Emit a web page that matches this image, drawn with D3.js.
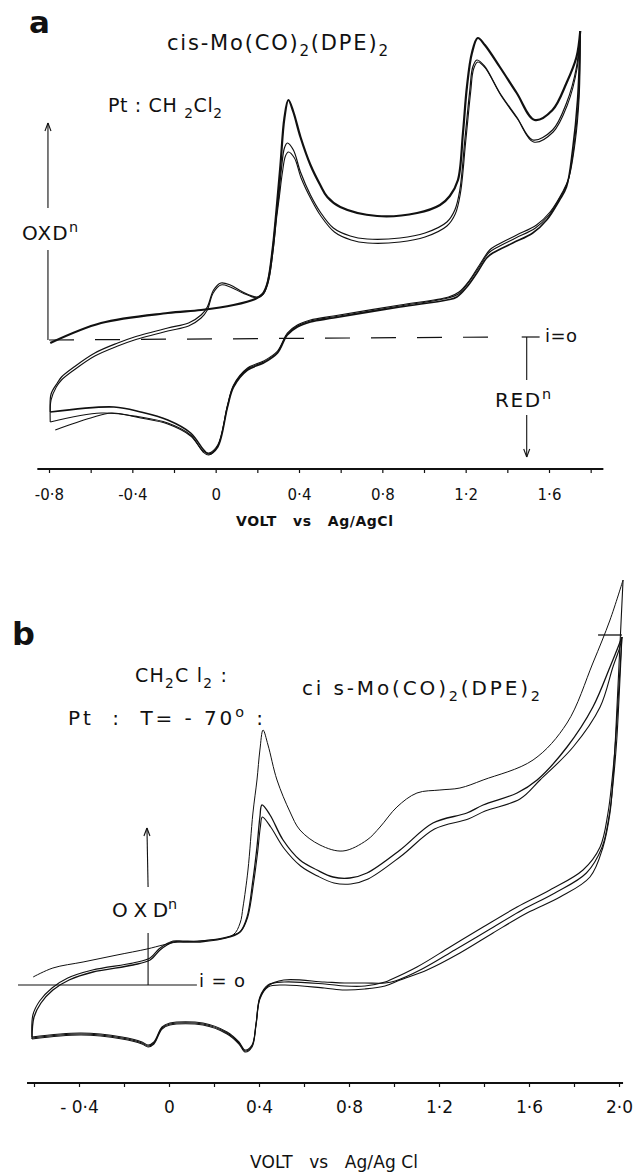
<!DOCTYPE html>
<html>
<head>
<meta charset="utf-8">
<script src="https://cdn.jsdelivr.net/npm/d3@7"></script>
<style>
  body { margin: 0; background: #fff; }
  text { font-family: "DejaVu Sans", sans-serif; fill: #111; white-space: pre; }
</style>
</head>
<body>
<svg id="fig" width="636" height="1174"></svg>
<script>
// ---------- panel a : cis-Mo(CO)2(DPE)2, Pt, CH2Cl2 ----------
// [volt vs Ag/AgCl, current (arb. units, + = oxidation)]
var aOx1 = [[-0.794,-0.5],[-0.55,1.5],[-0.23,2.5],[-0.07,2.8],[0.086,3.3],[0.19,3.9],[0.225,4.4],[0.249,5.5],
  [0.273,8.8],[0.292,12.8],[0.311,17.3],[0.33,22],[0.349,23.8],[0.373,22.6],[0.407,20.1],[0.455,17.3],
  [0.502,15.3],[0.536,14.1],[0.598,13.1],[0.775,12.2],[0.967,12.5],[1.077,13.3],[1.124,14.2],[1.163,15.8],
  [1.187,20.5],[1.206,25.1],[1.23,28.5],[1.258,30],[1.292,29.3],[1.364,27.1],[1.445,24.5],[1.531,21.8],
  [1.617,22.8],[1.684,25.5],[1.732,28.1],[1.75,30.7]];
var aRed1 = [[1.75,30.7],[1.737,23.8],[1.713,18.8],[1.684,15.1],[1.651,13.8],[1.589,11.8],[1.522,10.5],
  [1.426,9.5],[1.33,8.5],[1.301,8.0],[1.254,6.5],[1.206,5.1],[1.158,4.1],[1.11,3.8],[0.885,3.1],[0.565,2.0],
  [0.455,1.6],[0.392,1.1],[0.344,0.3],[0.297,-1.5],[0.23,-2.5],[0.153,-3.2],[0.086,-4.9],[0.057,-6.9],
  [0.01,-10.9],[-0.033,-11.6],[-0.057,-11.2],[-0.12,-9.5],[-0.23,-8.2],[-0.36,-7.4],[-0.488,-6.9],[-0.794,-7.4]];
var aOx2 = [[-0.794,-7.4],[-0.79,-5.6],[-0.76,-4.5],[-0.74,-3.9],[-0.68,-2.9],[-0.58,-1.5],[-0.47,-0.5],
  [-0.39,0.1],[-0.23,1.0],[-0.13,1.5],[-0.07,2.3],[-0.04,3.1],[-0.01,4.8],[0.025,5.5],[0.07,5.3],[0.13,4.6],
  [0.2,4.1],[0.23,4.5],[0.254,6.1],[0.273,8.8],[0.29,12.1],[0.302,14.0],[0.316,17.0],[0.33,19.0],[0.344,19.5],
  [0.373,18.8],[0.407,16.6],[0.455,14.3],[0.502,12.6],[0.565,11.0],[0.646,10.2],[0.727,9.9],[0.885,10.0],
  [1.005,10.5],[1.11,11.6],[1.148,12.8],[1.172,14.8],[1.196,19.8],[1.22,24.8],[1.234,27.1],[1.254,27.8],
  [1.29,27.2],[1.364,24.5],[1.445,22.1],[1.522,19.8],[1.617,20.8],[1.684,23.5],[1.732,27.1],[1.75,30.7]];
var aRed2 = [[1.75,30.7],[1.742,24],[1.72,19.2],[1.69,15.6],[1.66,14.3],[1.6,12.3],[1.535,11.0],[1.44,10.0],
  [1.345,9.0],[1.31,8.5],[1.262,7.0],[1.212,5.5],[1.165,4.4],[1.115,4.0],[0.885,3.2],[0.565,2.1],[0.455,1.7],
  [0.392,1.2],[0.344,0.4],[0.297,-1.4],[0.23,-2.4],[0.153,-3.1],[0.086,-4.8],[0.057,-6.8],[0.01,-10.8],
  [-0.033,-11.7],[-0.06,-11.4],[-0.12,-9.7],[-0.23,-8.5],[-0.36,-7.9],[-0.55,-7.5],[-0.794,-8.4]];
var aOx3 = [[-0.794,-8.4],[-0.79,-6.2],[-0.765,-4.9],[-0.74,-4.2],[-0.68,-3.2],[-0.58,-1.8],[-0.47,-0.8],
  [-0.39,-0.2],[-0.23,0.7],[-0.13,1.2],[-0.07,2.0],[-0.04,2.8],[-0.012,4.5],[0.025,5.3],[0.07,5.1],[0.13,4.5],
  [0.2,4.0],[0.23,4.4],[0.256,6.0],[0.276,8.8],[0.293,12.1],[0.305,14.0],[0.32,16.5],[0.335,18.2],[0.349,18.6],
  [0.378,18.0],[0.41,16.0],[0.46,13.8],[0.505,12.2],[0.57,10.6],[0.65,9.8],[0.73,9.5],[0.885,9.6],[1.005,10.1],
  [1.11,11.2],[1.15,12.4],[1.175,14.5],[1.2,19.6],[1.224,24.6],[1.238,26.9],[1.258,27.6],[1.294,27.0],
  [1.368,24.3],[1.449,21.9],[1.526,19.6],[1.62,20.6],[1.688,23.3],[1.735,27],[1.75,30.7]];
var aRed3 = [[1.75,30.7],[1.745,24.2],[1.725,19.5],[1.695,16],[1.665,14.6],[1.605,12.6],[1.54,11.3],[1.445,10.3],
  [1.35,9.3],[1.315,8.8],[1.266,7.3],[1.216,5.7],[1.168,4.6],[1.118,4.1],[0.885,3.3],[0.565,2.2],[0.455,1.8],
  [0.392,1.3],[0.344,0.5],[0.297,-1.3],[0.23,-2.3],[0.153,-3.0],[0.086,-4.7],[0.057,-6.7],[0.01,-10.7],
  [-0.033,-11.5],[-0.06,-11.3],[-0.12,-9.8],[-0.23,-8.6],[-0.36,-8.0],[-0.5,-7.5],[-0.6,-8.0],[-0.77,-9.2]];

var aTicks = [-0.8,-0.6,-0.4,-0.2,0,0.2,0.4,0.6,0.8,1.0,1.2,1.4,1.6,1.8];
var aLabelValues = [-0.8,-0.4,0,0.4,0.8,1.2,1.6];
var aLabels = ["-0\u00b78","-0\u00b74","0","0\u00b74","0\u00b78","1\u00b72","1\u00b76"];

// ---------- panel b : same complex, -70 deg ----------
var bOx1 = [[-0.604,0.8],[-0.516,1.7],[-0.382,2.3],[-0.231,3.0],[-0.098,3.6],[-0.027,4.0],[0.036,4.3],[0.138,4.4],
  [0.284,5.0],[0.316,6.2],[0.329,7.8],[0.351,11.5],[0.373,17.2],[0.391,20.5],[0.404,23.5],[0.418,25.5],[0.44,24.0],
  [0.48,20.5],[0.538,17.3],[0.582,15.5],[0.671,14.0],[0.773,13.4],[0.88,14.5],[0.938,15.8],[1.013,17.8],
  [1.102,19.2],[1.204,19.5],[1.293,19.7],[1.396,20.5],[1.618,22.5],[1.769,26.2],[1.884,32.2],[1.96,36.5],[2.018,40.5]];
var bRed1 = [[2.018,40.5],[2.0,32.0],[1.985,25.0],[1.973,20.5],[1.96,17.2],[1.929,13.8],[1.871,10.8],[1.738,8.8],
  [1.591,7.2],[1.44,5.2],[1.293,3.2],[1.147,1.5],[1.027,0.5],[0.96,-0.1],[0.87,-0.4],[0.78,-0.5],[0.69,-0.3],
  [0.51,0.0],[0.44,-0.2],[0.404,-1.4],[0.387,-4.0],[0.369,-6.2],[0.338,-6.7],[0.311,-5.9],[0.258,-4.9],[0.151,-4.0],
  [0.004,-4.0],[-0.031,-4.4],[-0.067,-5.9],[-0.093,-6.2],[-0.12,-5.9],[-0.209,-5.4],[-0.391,-5.0],[-0.609,-5.4]];
var bOx2 = [[-0.609,-5.4],[-0.60,-3.2],[-0.569,-1.8],[-0.516,-0.5],[-0.444,0.5],[-0.338,1.3],[-0.16,2.0],[-0.084,2.5],
  [-0.04,3.5],[-0.009,4.0],[0.018,4.3],[0.062,4.3],[0.138,4.3],[0.271,4.8],[0.316,5.3],[0.347,6.8],[0.373,10.5],
  [0.391,13.8],[0.404,16.8],[0.413,18.0],[0.449,17.0],[0.507,14.5],[0.582,12.5],[0.658,11.5],[0.729,10.8],
  [0.804,10.7],[0.88,11.2],[1.027,13.5],[1.173,16.2],[1.324,17.2],[1.396,18.0],[1.547,19.2],[1.636,20.5],
  [1.769,23.8],[1.884,27.8],[1.96,31.8],[1.996,33.8],[2.013,34.8]];
var bRed2 = [[2.013,34.8],[2.0,30],[1.985,24.5],[1.969,20.5],[1.951,17.2],[1.916,13.8],[1.84,11.5],[1.693,9.5],
  [1.547,7.8],[1.396,5.8],[1.249,3.8],[1.102,1.8],[0.982,0.5],[0.96,0.3],[0.871,-0.1],[0.782,-0.1],[0.693,0.1],
  [0.511,0.3],[0.44,0.0],[0.404,-1.2],[0.387,-3.8],[0.369,-6.0],[0.338,-6.5],[0.311,-5.7],[0.258,-4.7],[0.151,-3.8],
  [0.004,-3.8],[-0.031,-4.2],[-0.067,-5.7],[-0.093,-6.0],[-0.12,-5.7],[-0.209,-5.2],[-0.391,-4.8],[-0.609,-5.2]];
var bOx3 = [[-0.609,-5.2],[-0.605,-3.0],[-0.575,-1.6],[-0.52,-0.3],[-0.45,0.7],[-0.34,1.5],[-0.16,2.2],[-0.084,2.7],
  [-0.045,3.6],[-0.012,4.1],[0.018,4.4],[0.062,4.4],[0.138,4.4],[0.275,4.9],[0.32,5.4],[0.35,6.8],[0.376,10.2],
  [0.394,13.3],[0.406,15.8],[0.415,16.8],[0.452,15.8],[0.51,13.7],[0.585,11.9],[0.66,10.9],[0.733,10.2],
  [0.808,10.1],[0.885,10.6],[1.032,12.9],[1.18,15.6],[1.33,16.6],[1.405,17.4],[1.56,18.6],[1.649,20.5],
  [1.796,23.8],[1.916,27.8],[1.973,31.8],[2.004,33.8],[2.013,34.8]];
var bRed3 = [[2.013,34.8],[2.003,30],[1.99,24.5],[1.975,20.5],[1.958,17.2],[1.925,13.8],[1.855,11.2],[1.715,9.2],
  [1.57,7.5],[1.42,5.5],[1.27,3.5],[1.125,1.6],[1.005,0.4],[0.96,0.2],[0.87,0.2],[0.78,0.2],[0.69,0.3],
  [0.51,0.5],[0.44,-0.1],[0.404,-1.3],[0.387,-3.9],[0.369,-6.1],[0.338,-6.6],[0.311,-5.8],[0.258,-4.8],[0.151,-3.9],
  [0.004,-3.9],[-0.031,-4.3],[-0.067,-5.8],[-0.093,-6.1],[-0.12,-5.8],[-0.209,-5.3],[-0.391,-4.9],[-0.609,-5.3]];
var bBar = [[1.907,35.0],[2.013,35.0]];

var bTicks = [-0.6,-0.4,-0.2,0,0.2,0.4,0.6,0.8,1.0,1.2,1.4,1.6,1.8,2.0];
var bLabelValues = [-0.4,0,0.4,0.8,1.2,1.6,2.0];
var bLabels = ["- 0\u00b74","0","0\u00b74","0\u00b78","1\u00b72","1\u00b76","2\u00b70"];

// ---------- drawing ----------
var svg = d3.select("#fig");

var xA = d3.scaleLinear().domain([-0.8, 1.6]).range([49, 549]);
var yA = d3.scaleLinear().domain([0, 30]).range([338, 38]);
var xB = d3.scaleLinear().domain([-0.4, 2.0]).range([79, 619]);
var yB = d3.scaleLinear().domain([0, 40]).range([985, 585]);

function rich(x, y, size, parts, len) {
  var t = svg.append("text").attr("x", x).attr("y", y).attr("font-size", size);
  var cur = 0;
  parts.forEach(function(p) {
    var s = typeof p === "string" ? p : p[0], k = typeof p === "string" ? 0 : p[1];
    var off = k === 1 ? size * 0.3 : k === -1 ? -size * 0.42 : 0;
    t.append("tspan").attr("dy", off - cur).attr("font-size", k ? size * 0.72 : size).text(s);
    cur = off;
  });
  if (len) t.attr("textLength", len).attr("lengthAdjust", "spacing");
  return t;
}

function trace(x, y, data, w) {
  var line = d3.line().x(function(d) { return x(d[0]); }).y(function(d) { return y(d[1]); })
    .curve(d3.curveCatmullRom.alpha(0.5));
  svg.append("path").attr("d", line(data)).attr("fill", "none")
    .attr("stroke", "#111").attr("stroke-width", w).attr("stroke-linejoin", "round");
}

function seg(x1, y1, x2, y2, w, dash) {
  var l = svg.append("line").attr("x1", x1).attr("y1", y1).attr("x2", x2).attr("y2", y2)
    .attr("stroke", "#111").attr("stroke-width", w || 1.1);
  if (dash) l.attr("stroke-dasharray", dash);
}

function head(x, y, dir) { // open arrow head, dir -1 up, +1 down
  seg(x, y, x - 3, y - dir * 8, 1.1);
  seg(x, y, x + 3, y - dir * 8, 1.1);
}

function axis(x, yPos, ticks, labVals, labs, extent, pad, size) {
  svg.append("line").attr("x1", x(extent[0])).attr("x2", x(extent[1]))
    .attr("y1", yPos).attr("y2", yPos).attr("stroke", "#111").attr("stroke-width", 2);
  var g1 = svg.append("g").attr("transform", "translate(0," + yPos + ")")
    .call(d3.axisBottom(x).tickValues(ticks).tickSize(4).tickFormat(""));
  g1.select(".domain").remove();
  g1.selectAll("line").attr("stroke", "#111").attr("stroke-width", 1.2);
  var g2 = svg.append("g").attr("transform", "translate(0," + yPos + ")")
    .call(d3.axisBottom(x).tickValues(labVals).tickSize(0).tickPadding(pad)
      .tickFormat(function(d, i) { return labs[i]; }));
  g2.select(".domain").remove();
  g2.selectAll("text").attr("font-size", size).attr("font-family", "DejaVu Sans, sans-serif").attr("fill", "#111");
}

// panel a curves
trace(xA, yA, aRed3, 1.1);
trace(xA, yA, aOx3, 1.1);
trace(xA, yA, aRed2, 1.1);
trace(xA, yA, aOx2, 1.2);
trace(xA, yA, aRed1, 1.6);
trace(xA, yA, aOx1, 2.2);

// panel a zero line, arrows
seg(xA(-0.8), yA(-0.2), xA(1.364), yA(0.1), 1.2, "25,21");
seg(xA(1.469), yA(0.1), xA(1.555), yA(0.1), 1.2);
seg(xA(1.493), yA(0.1), xA(1.493), yA(-4.2));
seg(xA(1.493), yA(-7.7), xA(1.493), yA(-11.9));
head(xA(1.493), yA(-11.9), 1);
seg(xA(-0.805), yA(-0.2), xA(-0.805), yA(8.8));
seg(xA(-0.805), yA(13.0), xA(-0.805), yA(21.5));
head(xA(-0.805), yA(21.5), -1);

axis(xA, 469, aTicks, aLabelValues, aLabels, [-0.856, 1.861], 20, 15);

// panel b curves
trace(xB, yB, bRed3, 1.1);
trace(xB, yB, bOx3, 1.1);
trace(xB, yB, bRed2, 1.1);
trace(xB, yB, bOx2, 1.3);
trace(xB, yB, bRed1, 1.1);
trace(xB, yB, bOx1, 1.0);
trace(xB, yB, bBar, 1.3);

// panel b zero line, arrow
seg(xB(-0.671), yB(0), xB(0.124), yB(0), 1.2);
seg(xB(-0.093), yB(0), xB(-0.093), yB(5.2));
seg(xB(-0.093), yB(9.8), xB(-0.098), yB(15.7));
head(xB(-0.098), yB(15.7), -1);

axis(xB, 1083, bTicks, bLabelValues, bLabels, [-0.631, 2.018], 18, 17);

// ---------- lettering ----------
svg.append("text").attr("x", 29).attr("y", 33).attr("font-size", 31).attr("font-weight", "bold")
  .attr("font-family", "Liberation Sans, Arial, sans-serif").text("a");
svg.append("text").attr("x", 12).attr("y", 645).attr("font-size", 32).attr("font-weight", "bold")
  .attr("font-family", "Liberation Sans, Arial, sans-serif").text("b");

rich(167, 50, 21, ["cis-Mo(CO)", ["2", 1], "(DPE)", ["2", 1]], 221);
rich(108, 112, 19, ["Pt : CH ", ["2", 1], "Cl", ["2", 1]], 114);
rich(22, 240, 20, ["OXD", ["n", -1]], 56);
rich(545, 342, 18, ["i=o"], 32);
rich(495, 407, 20, ["RED", ["n", -1]], 56);
svg.append("text").attr("x", 236).attr("y", 526).attr("font-size", 14).attr("font-weight", "bold")
  .attr("font-family", "Liberation Sans, Arial, sans-serif").attr("textLength", 157).attr("lengthAdjust", "spacing")
  .text("VOLT   vs   Ag/AgCl");

rich(135, 682, 19, ["CH", ["2", 1], "C l", ["2", 1], " :"], 92);
rich(68, 725, 20, ["Pt  :  T= - 70", ["o", -1], " :"], 195);
rich(302, 695, 20, ["ci s-Mo(CO)", ["2", 1], "(DPE)", ["2", 1]], 238);
rich(112, 917, 20, ["O X D", ["n", -1]], 65);
rich(199, 987, 18, ["i = o"], 46);
svg.append("text").attr("x", 250).attr("y", 1168).attr("font-size", 17)
  .attr("textLength", 168).attr("lengthAdjust", "spacing").text("VOLT   vs   Ag/Ag Cl");
</script>
</body>
</html>
